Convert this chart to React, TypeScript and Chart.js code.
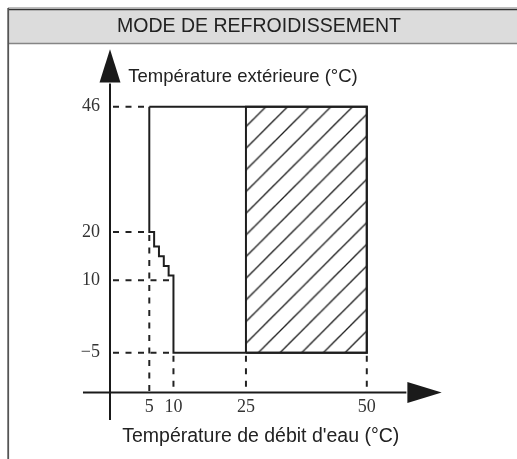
import React, { useEffect, useRef } from 'react';
import { Chart, registerables } from 'chart.js';

Chart.register(...registerables);

// ---- Texts ----
const headerTitle = 'MODE DE REFROIDISSEMENT';
const yTitle = 'Température extérieure (°C)';
const xTitle = "Température de débit d'eau (°C)";

// ---- Tick labels ----
const xTickValues = [5, 10, 25, 50];
const yTickValues = [-5, 10, 20, 46];

// ---- Axis ranges (axis lines cross at the minimum of each range) ----
const xRange = [-3.13, 65.5];
const yRange = [-13.25, 57.9];
const xAxisLineStart = -8.72;
const yAxisLineStart = -18.95;
const xArrowBase = 58.4;
const yArrowBase = 51;

// ---- Operating region outline (water flow temperature, outdoor temperature) ----
const regionX = [5, 50, 50, 10, 10, 9, 9, 8, 8, 7, 7, 6, 6, 5, 5];
const regionY = [46, 46, -5, -5, 11, 11, 13, 13, 15, 15, 17, 17, 20, 20, 46];

// ---- Hatched rectangle ----
const hatchX = [25, 50, 50, 25, 25];
const hatchY = [-5, -5, 46, 46, -5];

// ---- Dashed guide lines ----
const guideHY = [46, 20, 10, -5];
const guideHXEnd = [5, 5, 10, 10];
const guideVX = [5, 10, 25, 50];
const guideVYStart = [20, -5, -5, -5];

const fmt = (v: number) => (v < 0 ? '\u2212' + Math.abs(v) : String(v));

function makeHatch(): CanvasPattern | string {
  const s = 22;
  const c = document.createElement('canvas');
  c.width = s;
  c.height = s;
  const g = c.getContext('2d');
  if (!g) return 'rgba(0,0,0,0)';
  g.strokeStyle = '#222';
  g.lineWidth = 1.4;
  g.beginPath();
  g.moveTo(-2, s + 2);
  g.lineTo(s + 2, -2);
  g.moveTo(-2, 2);
  g.lineTo(2, -2);
  g.moveTo(s - 2, s + 2);
  g.lineTo(s + 2, s - 2);
  g.stroke();
  const p = g.createPattern(c, 'repeat');
  if (!p) return 'rgba(0,0,0,0)';
  try {
    p.setTransform(new DOMMatrix().translate(4.2, 0).scale(21.67 / s));
  } catch (e) {
    /* ignore */
  }
  return p;
}

const framePlugin = {
  id: 'frame',
  beforeDraw(chart: any) {
    const ctx = chart.ctx as CanvasRenderingContext2D;
    const w = chart.width;
    const h = chart.height;
    ctx.save();
    ctx.fillStyle = '#ffffff';
    ctx.fillRect(0, 0, w, h);
    // header band
    ctx.fillStyle = '#dcdcdc';
    ctx.fillRect(8, 8, w - 8, 36);
    ctx.strokeStyle = '#bdbdbd';
    ctx.lineWidth = 1;
    ctx.beginPath();
    ctx.moveTo(8, 7.5);
    ctx.lineTo(w, 7.5);
    ctx.stroke();
    ctx.strokeStyle = '#333';
    ctx.lineWidth = 1.5;
    ctx.beginPath();
    ctx.moveTo(8, 9.5);
    ctx.lineTo(w, 9.5);
    ctx.stroke();
    ctx.strokeStyle = '#858585';
    ctx.lineWidth = 1.5;
    ctx.beginPath();
    ctx.moveTo(8, 43.5);
    ctx.lineTo(w, 43.5);
    ctx.stroke();
    // left border
    ctx.strokeStyle = '#555';
    ctx.lineWidth = 1.8;
    ctx.beginPath();
    ctx.moveTo(8.2, 8);
    ctx.lineTo(8.2, h);
    ctx.stroke();
    // header text
    ctx.fillStyle = '#222';
    ctx.font = '19.5px "Liberation Sans", Arial, sans-serif';
    ctx.textAlign = 'center';
    ctx.textBaseline = 'alphabetic';
    ctx.fillText(headerTitle, 259, 31.7);
    ctx.restore();
  },
  afterDraw(chart: any) {
    const ctx = chart.ctx as CanvasRenderingContext2D;
    const xs = chart.scales.x;
    const ys = chart.scales.y;
    const ax = xs.getPixelForValue(xRange[0]);
    const ay = ys.getPixelForValue(yRange[0]);
    ctx.save();
    ctx.strokeStyle = '#1a1a1a';
    ctx.fillStyle = '#1a1a1a';
    ctx.lineWidth = 2;
    // y axis line
    const yBase = ys.getPixelForValue(yArrowBase);
    const yTip = ys.getPixelForValue(yRange[1]);
    ctx.beginPath();
    ctx.moveTo(ax, ys.getPixelForValue(yAxisLineStart));
    ctx.lineTo(ax, yBase + 1);
    ctx.stroke();
    ctx.beginPath();
    ctx.moveTo(ax, yTip);
    ctx.lineTo(ax - 10.5, yBase);
    ctx.lineTo(ax + 10.5, yBase);
    ctx.closePath();
    ctx.fill();
    // x axis line
    const xBase = xs.getPixelForValue(xArrowBase);
    const xTip = xs.getPixelForValue(xRange[1]);
    ctx.beginPath();
    ctx.moveTo(xs.getPixelForValue(xAxisLineStart), ay);
    ctx.lineTo(xBase - 1, ay);
    ctx.stroke();
    ctx.beginPath();
    ctx.moveTo(xTip, ay);
    ctx.lineTo(xBase, ay - 10.5);
    ctx.lineTo(xBase, ay + 10.5);
    ctx.closePath();
    ctx.fill();
    // axis titles
    ctx.fillStyle = '#222';
    ctx.textBaseline = 'alphabetic';
    ctx.font = '18.5px "Liberation Sans", Arial, sans-serif';
    ctx.textAlign = 'left';
    ctx.fillText(yTitle, 128.3, 81.6);
    ctx.font = '19.5px "Liberation Sans", Arial, sans-serif';
    ctx.textAlign = 'center';
    ctx.fillText(xTitle, 260.8, 442);
    ctx.restore();
  },
};

export default function App() {
  const ref = useRef<HTMLCanvasElement>(null);

  useEffect(() => {
    const canvas = ref.current;
    if (!canvas) return;
    const pattern = makeHatch();

    const guideStyle = {
      showLine: true,
      borderColor: '#222',
      borderWidth: 2,
      borderDash: [6, 6.5],
      borderDashOffset: -3,
      pointRadius: 0,
      fill: false,
      order: 3,
    };

    const datasets: any[] = [];
    guideHY.forEach((y, i) => {
      datasets.push({
        ...guideStyle,
        data: [
          { x: xRange[0], y },
          { x: guideHXEnd[i], y },
        ],
      });
    });
    guideVX.forEach((x, i) => {
      datasets.push({
        ...guideStyle,
        data: [
          { x, y: guideVYStart[i] },
          { x, y: yRange[0] },
        ],
      });
    });
    datasets.push({
      showLine: true,
      data: hatchX.map((x, i) => ({ x, y: hatchY[i] })),
      borderColor: '#1e1e1e',
      borderWidth: 2,
      backgroundColor: pattern,
      fill: 'shape',
      pointRadius: 0,
      order: 1,
    });
    datasets.push({
      showLine: true,
      data: regionX.map((x, i) => ({ x, y: regionY[i] })),
      borderColor: '#1e1e1e',
      borderWidth: 2,
      borderJoinStyle: 'miter',
      fill: false,
      pointRadius: 0,
      order: 0,
    });

    const tickFont = { family: '"Liberation Serif", "Times New Roman", serif', size: 18 };

    const chart = new Chart(canvas, {
      type: 'scatter',
      data: { datasets },
      options: {
        animation: false,
        responsive: false,
        events: [],
        layout: { padding: { left: 70, right: 75.3, top: 49.3, bottom: 36.5 } },
        plugins: {
          legend: { display: false },
          tooltip: { enabled: false },
          title: { display: false },
        },
        scales: {
          x: {
            type: 'linear',
            min: xRange[0],
            max: xRange[1],
            grid: { display: false, drawTicks: false },
            border: { display: false },
            afterBuildTicks: (s: any) => {
              s.ticks = xTickValues.map((v) => ({ value: v }));
            },
            afterFit: (s: any) => {
              s.height = 30;
            },
            ticks: {
              autoSkip: false,
              maxRotation: 0,
              padding: 4,
              color: '#333',
              font: tickFont,
              callback: (v: any) => fmt(Number(v)),
            },
          },
          y: {
            type: 'linear',
            min: yRange[0],
            max: yRange[1],
            grid: { display: false, drawTicks: false },
            border: { display: false },
            afterBuildTicks: (s: any) => {
              s.ticks = yTickValues.map((v) => ({ value: v }));
            },
            afterFit: (s: any) => {
              s.width = 40;
            },
            ticks: {
              autoSkip: false,
              padding: 10,
              color: '#333',
              font: tickFont,
              callback: (v: any) => fmt(Number(v)),
            },
          },
        },
      } as any,
      plugins: [framePlugin],
    });

    return () => chart.destroy();
  }, []);

  return (
    <div style={{ position: 'absolute', left: 0, top: 0, width: 517, height: 459, overflow: 'hidden' }}>
      <canvas ref={ref} width={517} height={459} style={{ display: 'block', width: 517, height: 459 }} />
    </div>
  );
}
